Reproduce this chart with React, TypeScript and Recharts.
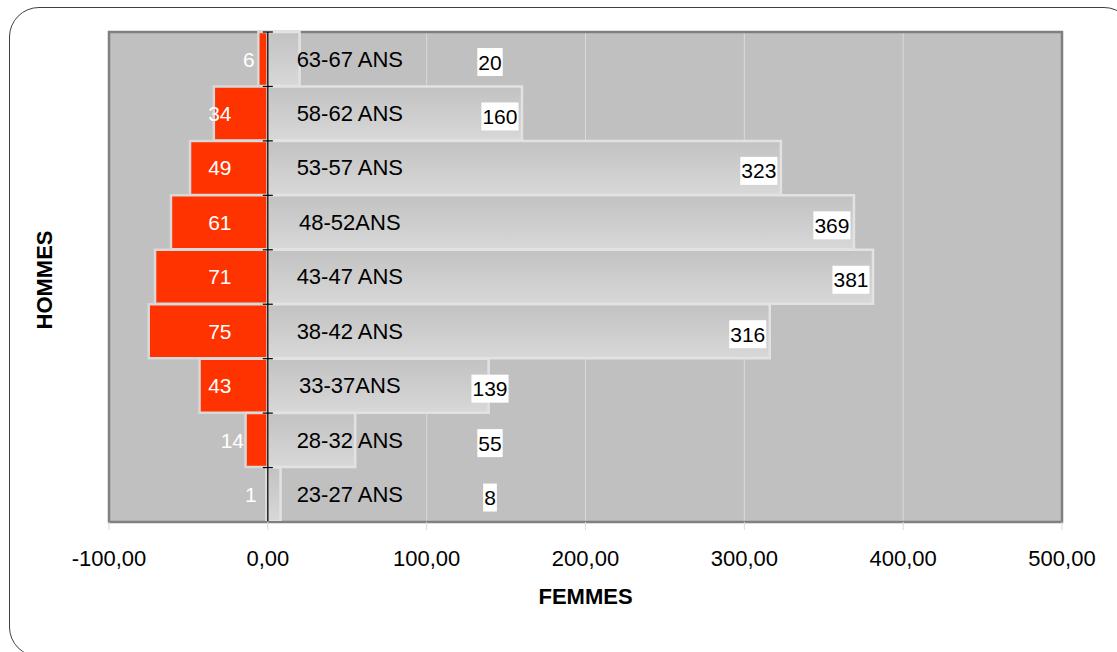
import React from 'react';
import { BarChart, Bar, XAxis, YAxis, CartesianGrid, ReferenceLine, ReferenceArea, LabelList, Label } from 'recharts';

const ages = ['63-67 ANS', '58-62 ANS', '53-57 ANS', '48-52ANS', '43-47 ANS', '38-42 ANS', '33-37ANS', '28-32 ANS', '23-27 ANS'];
const hommes = [6, 34, 49, 61, 71, 75, 43, 14, 1];
const femmes = [20, 160, 323, 369, 381, 316, 139, 55, 8];
const xTicks = [-100, 0, 100, 200, 300, 400, 500];

const data = ages.map((age, i) => ({ age, hommes: -hommes[i], femmes: femmes[i] }));

const FONT = '"Liberation Sans", Arial, sans-serif';

const fmt = (v: number) => v.toFixed(2).replace('.', ',');

// men value, white text just left of the zero axis
const MenLabel = (props: any) => {
  const { x, y, width, height, value } = props;
  const zero = Math.max(x, x + width);
  const w = Math.abs(width);
  const off = Math.min(48, 17 + Math.max(0, w - 8) * 1.3);
  return (
    <text x={zero - off} y={y + height / 2} textAnchor="middle" dominantBaseline="central"
      fill="#fff" fontSize={21} fontFamily={FONT}>
      {Math.abs(value)}
    </text>
  );
};

// women value in a white box near the end of the bar
const WomenLabel = (props: any) => {
  const { x, y, width, height, value } = props;
  const end = x + width;
  const cx = Math.max(end - 22, 490);
  const cy = y + height / 2 + 3;
  const w = String(value).length * 11.7 + 2;
  return (
    <g>
      <rect x={cx - w / 2} y={cy - 14} width={w} height={28} fill="#fff" />
      <text x={cx} y={cy} textAnchor="middle" dominantBaseline="central" fill="#000" fontSize={21} fontFamily={FONT}>
        {value}
      </text>
    </g>
  );
};

const AgeLabel = (props: any) => {
  const { x, y, height, value } = props;
  return (
    <text x={x + 82} y={y + height / 2} textAnchor="middle" dominantBaseline="central" fill="#000" fontSize={22} fontFamily={FONT}>
      {value}
    </text>
  );
};

const ZeroAxis = (props: any) => {
  const { x1, y1, x2, y2 } = props;
  const top = Math.min(y1, y2);
  const bottom = Math.max(y1, y2);
  const step = (bottom - top) / ages.length;
  const marks = [];
  for (let i = 0; i <= ages.length; i++) {
    const yy = top + step * i;
    marks.push(<line key={i} x1={x1 - 5} x2={x1 + 5} y1={yy} y2={yy} stroke="#000" strokeWidth={1.2} />);
  }
  return (
    <g>
      <line x1={x1} x2={x2} y1={y1} y2={y2} stroke="#000" strokeWidth={1.3} />
      {marks}
    </g>
  );
};

export default function App() {
  return (
    <div style={{ position: 'fixed', left: 0, top: 0, width: 1117, height: 652, overflow: 'hidden', background: '#fff' }}>
      <div style={{ position: 'absolute', left: 9, top: 7, width: 1125, height: 650, boxSizing: 'border-box', border: '1.5px solid #404040', borderRadius: 30 }} />
      <div style={{ position: 'absolute', left: 45, top: 280, transform: 'translate(-50%, -50%) rotate(-90deg)', fontFamily: FONT, fontWeight: 'bold', fontSize: 22, whiteSpace: 'nowrap', color: '#000' }}>
        HOMMES
      </div>
      <div style={{ position: 'absolute', left: 0, top: 0 }}>
        <BarChart width={1117} height={652} data={data} layout="vertical" stackOffset="sign"
          barCategoryGap={0} margin={{ top: 32, right: 55, bottom: 0, left: 109 }}>
          <defs>
            <linearGradient id="femGrad" x1="0" y1="0" x2="0" y2="1">
              <stop offset="0%" stopColor="#c2c2c2" />
              <stop offset="100%" stopColor="#d8d8d8" />
            </linearGradient>
          </defs>
          <CartesianGrid horizontal={false} stroke="#dadada" fill="#c0c0c0" />
          <XAxis type="number" domain={[-100, 500]} ticks={xTicks} tickFormatter={fmt} height={130}
            axisLine={{ stroke: '#808080', strokeWidth: 2 }} tickLine={{ stroke: '#dadada' }} tickSize={8} tickMargin={20}
            tick={{ fill: '#000', fontSize: 22, fontFamily: FONT }} interval={0}>
            <Label value="FEMMES" position="insideTop" offset={66} fill="#000" fontSize={22} fontWeight="bold" fontFamily={FONT} />
          </XAxis>
          <YAxis type="category" dataKey="age" hide />
          <ReferenceArea x1={-100} x2={500} fill="none" stroke="#808080" strokeWidth={2.5} />
          <Bar dataKey="hommes" stackId="a" fill="#ff3300" stroke="#d8d8d8" strokeWidth={2.5} isAnimationActive={false}>
            <LabelList dataKey="hommes" content={MenLabel} />
          </Bar>
          <Bar dataKey="femmes" stackId="a" fill="url(#femGrad)" stroke="#e2e2e2" strokeWidth={2.5} isAnimationActive={false}>
            <LabelList dataKey="age" content={AgeLabel} />
            <LabelList dataKey="femmes" content={WomenLabel} />
          </Bar>
          <ReferenceLine x={0} shape={ZeroAxis} />
        </BarChart>
      </div>
    </div>
  );
}
